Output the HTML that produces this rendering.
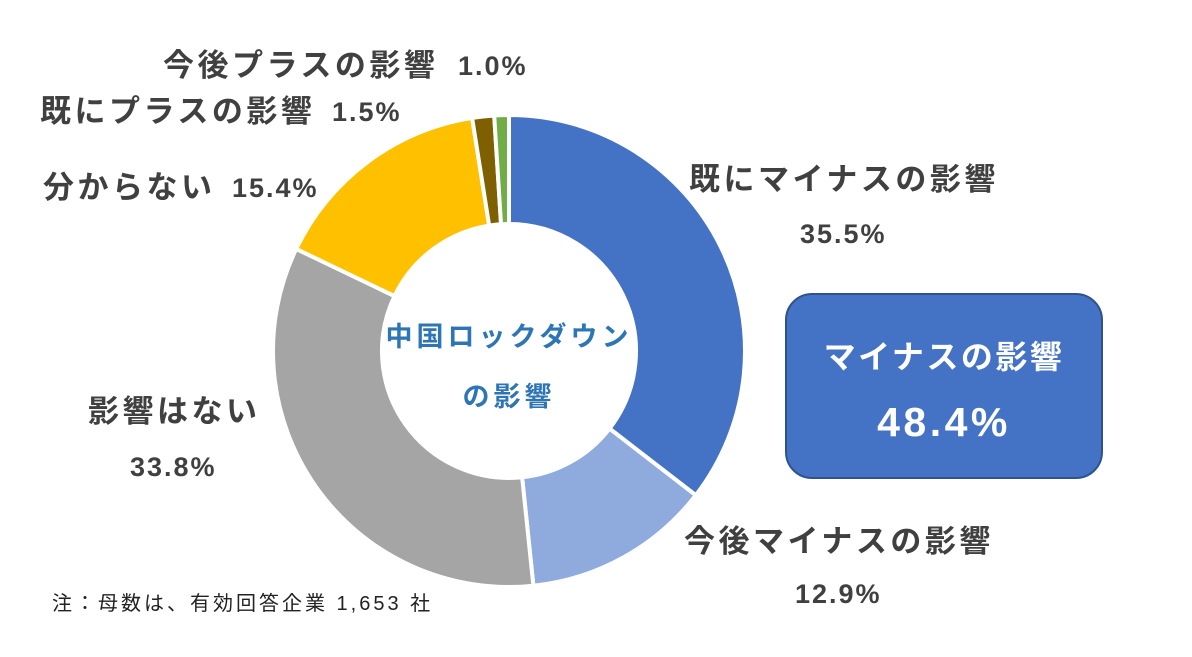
<!DOCTYPE html>
<html><head><meta charset="utf-8"><style>
body{margin:0;width:1192px;height:652px;background:#fff;overflow:hidden;font-family:"Liberation Sans","Noto Sans CJK JP",sans-serif}
svg text{font-family:"Liberation Sans","Noto Sans CJK JP",sans-serif}
.lab{font-size:31px;letter-spacing:3.5px}
.num{font-size:27px;letter-spacing:2px}
</style></head><body>
<svg width="1192" height="652">
<g id="slices"></g>
<text x="509" y="346" text-anchor="middle" font-size="27" letter-spacing="4" font-weight="bold" fill="#2E75B6">中国ロックダウン</text>
<text x="509" y="406" text-anchor="middle" font-size="27" letter-spacing="4" font-weight="bold" fill="#2E75B6">の影響</text>
<g font-weight="bold" fill="#404040">
<text class="lab" x="689" y="190">既にマイナスの影響</text>
<text class="num" x="800" y="243">35.5%</text>
<text class="lab" x="684" y="552">今後マイナスの影響</text>
<text class="num" x="795" y="603">12.9%</text>
<text class="lab" x="88" y="422">影響はない</text>
<text class="num" x="130" y="476">33.8%</text>
<text class="lab" x="43" y="198">分からない</text>
<text class="num" x="232" y="197">15.4%</text>
<text class="lab" x="40" y="122">既にプラスの影響</text>
<text class="num" x="332" y="121">1.5%</text>
<text class="lab" x="163" y="76">今後プラスの影響</text>
<text class="num" x="458" y="75">1.0%</text>
</g>
<rect x="786" y="294" width="316" height="184" rx="26" fill="#4472C4" stroke="#2F528F" stroke-width="2"/>
<text x="944" y="368" text-anchor="middle" font-size="32" letter-spacing="2.5" font-weight="bold" fill="#fff">マイナスの影響</text>
<text x="944" y="436" text-anchor="middle" font-size="41" letter-spacing="3.5" font-weight="bold" fill="#fff">48.4%</text>
<text x="52" y="610" font-size="20" letter-spacing="3" fill="#222">注：母数は、有効回答企業 1,653 社</text>
</svg>
<script>
const categories=["既にマイナスの影響","今後マイナスの影響","影響はない","分からない","既にプラスの影響","今後プラスの影響"];
const values=[35.5,12.9,33.8,15.4,1.5,1.0];
const colors=["#4472C4","#8FAADC","#A5A5A5","#FFC000","#7F6000","#70AD47"];
const cx=509,cy=351,R=236,r=127;
const total=values.reduce((a,b)=>a+b,0);
const g=document.getElementById('slices');
function pt(rad,a){return [cx+rad*Math.sin(a),cy-rad*Math.cos(a)];}
let acc=0;
values.forEach((v,i)=>{
  const a0=acc/total*2*Math.PI;acc+=v;const a1=acc/total*2*Math.PI;
  const large=(a1-a0)>Math.PI?1:0;
  const p1=pt(R,a0),p2=pt(R,a1),p3=pt(r,a1),p4=pt(r,a0);
  const p=document.createElementNS('http://www.w3.org/2000/svg','path');
  p.setAttribute('d',`M${p1}A${R},${R} 0 ${large} 1 ${p2}L${p3}A${r},${r} 0 ${large} 0 ${p4}Z`);
  p.setAttribute('fill',colors[i]);p.setAttribute('stroke','#fff');p.setAttribute('stroke-width','4');
  
  
  g.appendChild(p);
});
</script>
</body></html>
